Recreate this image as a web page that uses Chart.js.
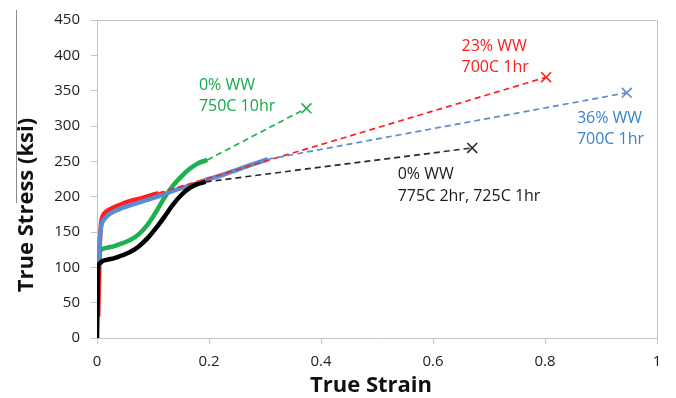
<!DOCTYPE html>
<html>
<head>
<meta charset="utf-8">
<script src="https://cdn.jsdelivr.net/npm/chart.js@4.4.1/dist/chart.umd.min.js"></script>
<style>
  html, body { margin: 0; padding: 0; background: #ffffff; }
  #wrap { position: relative; width: 676px; height: 398px; }
  #edge { position: absolute; left: 16px; top: 10px; width: 0; height: 193px; border-left: 1px solid #8a8a8a; }
</style>
</head>
<body>
<div id="wrap">
  <canvas id="Chart" width="676" height="398"></canvas>
  <div id="edge"></div>
</div>
<script>
//axis ticks
var xTicks = [0, 0.2, 0.4, 0.6, 0.8, 1];
var yTicks = [0, 50, 100, 150, 200, 250, 300, 350, 400, 450];

//measured curves (strain, stress in ksi)
var blackStrain = [0, 0.001, 0.002, 0.005, 0.01, 0.02, 0.031, 0.045, 0.06, 0.075, 0.09, 0.105, 0.12, 0.135, 0.15, 0.165, 0.18, 0.194];
var blackStress = [0, 50, 100, 106, 109, 111, 113, 117, 122, 130, 141, 155, 171, 188, 202, 212, 218, 221];

var greenStrain = [0.002, 0.003, 0.005, 0.01, 0.02, 0.031, 0.045, 0.06, 0.075, 0.09, 0.105, 0.12, 0.135, 0.15, 0.165, 0.18, 0.197];
var greenStress = [100, 112, 122, 126, 128, 130, 134, 139, 147, 160, 178, 198, 215, 228, 239, 247, 252];

var blueStrain = [0.003, 0.005, 0.008, 0.012, 0.02, 0.03, 0.045, 0.06, 0.08, 0.1, 0.125, 0.15, 0.175, 0.2, 0.225, 0.25, 0.275, 0.305];
var blueStress = [100, 140, 160, 167, 174, 179, 184, 188, 193, 198, 205, 212, 218, 225, 231, 238, 245, 253];

var redStrain = [0.002, 0.004, 0.005, 0.007, 0.01, 0.015, 0.02, 0.03, 0.045, 0.06, 0.08, 0.1, 0.11];
var redStress = [30, 95, 130, 160, 172, 178, 181, 185, 190, 194, 198, 203, 205];

//fracture points (end of dashed extrapolation)
var blackFracture = [0.67, 269];
var greenFracture = [0.374, 325];
var blueFracture = [0.946, 347];
var redFracture = [0.802, 369];

//curve labels
var labelText = [
  ["0% WW", "750C 10hr"],
  ["23% WW", "700C 1hr"],
  ["36% WW", "700C 1hr"],
  ["0% WW", "775C 2hr, 725C 1hr"]
];
var labelAt = [[0.182, 358], [0.651, 413], [0.857, 311], [0.537, 231]];
var labelColor = ["#17a94a", "#ff1a1a", "#3b82c8", "#1a1a1a"];

var xTitle = "True Strain";
var yTitle = "True Stress (ksi)";

var colGreen = "#1db04f", colRed = "#ff1f1f", colBlue = "#5b8bd2", colBlack = "#000000";

function pts(xs, ys) {
  return xs.map(function (x, i) { return { x: x, y: ys[i] }; });
}

function solid(xs, ys, col) {
  return {
    data: pts(xs, ys),
    borderColor: col,
    borderWidth: 4.5,
    pointRadius: 0,
    showLine: true,
    cubicInterpolationMode: "monotone",
  };
}

function dashed(xs, ys, end, col) {
  var n = xs.length - 1;
  return {
    data: [{ x: xs[n], y: ys[n] }, { x: end[0], y: end[1] }],
    borderColor: col,
    backgroundColor: col,
    borderWidth: 1.7,
    borderDash: [6, 4],
    showLine: true,
    pointStyle: "crossRot",
    pointRadius: [0, 7],
    pointBorderWidth: 1.6,
    pointBorderColor: col,
  };
}

//frame, axis titles and text labels
var extras = {
  id: "extras",
  beforeDatasetsDraw: function (chart) {
    var a = chart.chartArea, ctx = chart.ctx;
    ctx.save();
    ctx.strokeStyle = "#c4c4c4";
    ctx.lineWidth = 1;
    ctx.beginPath();
    ctx.moveTo(a.left, a.top + 0.5);
    ctx.lineTo(a.right + 0.5, a.top + 0.5);
    ctx.lineTo(a.right + 0.5, a.bottom);
    ctx.stroke();
    ctx.restore();
  },
  afterDatasetsDraw: function (chart) {
    var ctx = chart.ctx, sx = chart.scales.x, sy = chart.scales.y;
    ctx.save();
    ctx.font = "16px 'Open Sans'";
    ctx.textAlign = "left";
    ctx.textBaseline = "middle";
    labelText.forEach(function (lines, i) {
      var px = sx.getPixelForValue(labelAt[i][0]);
      var py = sy.getPixelForValue(labelAt[i][1]);
      ctx.fillStyle = labelColor[i];
      lines.forEach(function (t, j) {
        ctx.fillText(t, px, py + j * 21.5);
      });
    });

    ctx.fillStyle = "#111111";
    ctx.font = "bold 22px 'Open Sans'";
    ctx.textAlign = "center";
    ctx.fillText(xTitle, 371, 386);
    ctx.translate(27, 205);
    ctx.rotate(-Math.PI / 2);
    ctx.fillText(yTitle, 0, 0);
    ctx.restore();
  },
};

var ctx = document.getElementById("Chart").getContext("2d");

var myChart = new Chart(ctx, {
  type: "scatter",
  data: {
    datasets: [
      dashed(blackStrain, blackStress, blackFracture, "#2a2a2a"),
      dashed(greenStrain, greenStress, greenFracture, colGreen),
      dashed(blueStrain, blueStress, blueFracture, colBlue),
      dashed(redStrain, redStress, redFracture, colRed),
      solid(blackStrain, blackStress, colBlack),
      solid(blueStrain, blueStress, colBlue),
      solid(redStrain, redStress, colRed),
      solid(greenStrain, greenStress, colGreen),
    ],
  },
  options: {
    responsive: false,
    animation: false,
    layout: { padding: { top: 15, right: 19, left: 0, bottom: 0 } },
    plugins: {
      legend: { display: false },
      tooltip: { enabled: false },
    },
    scales: {
      x: {
        type: "linear",
        min: 0,
        max: 1,
        afterBuildTicks: function (s) {
          s.ticks = xTicks.map(function (v) { return { value: v }; });
        },
        afterFit: function (s) { s.height = 60; },
        ticks: {
          color: "#222222",
          font: { family: "'Open Sans'", size: 15 },
          padding: 9,
          maxRotation: 0,
          callback: function (v) { return String(Math.round(v * 10) / 10); },
        },
        grid: { drawOnChartArea: false, tickLength: 6, color: "#c4c4c4" },
        border: { color: "#c4c4c4" },
      },
      y: {
        type: "linear",
        min: 0,
        max: 450,
        afterBuildTicks: function (s) {
          s.ticks = yTicks.map(function (v) { return { value: v }; });
        },
        afterFit: function (s) { s.width = 97; },
        ticks: {
          color: "#222222",
          font: { family: "'Open Sans'", size: 15 },
          padding: 11,
        },
        grid: { drawOnChartArea: false, tickLength: 6, color: "#c4c4c4" },
        border: { color: "#c4c4c4" },
      },
    },
  },
  plugins: [extras],
});
</script>
</body>
</html>
